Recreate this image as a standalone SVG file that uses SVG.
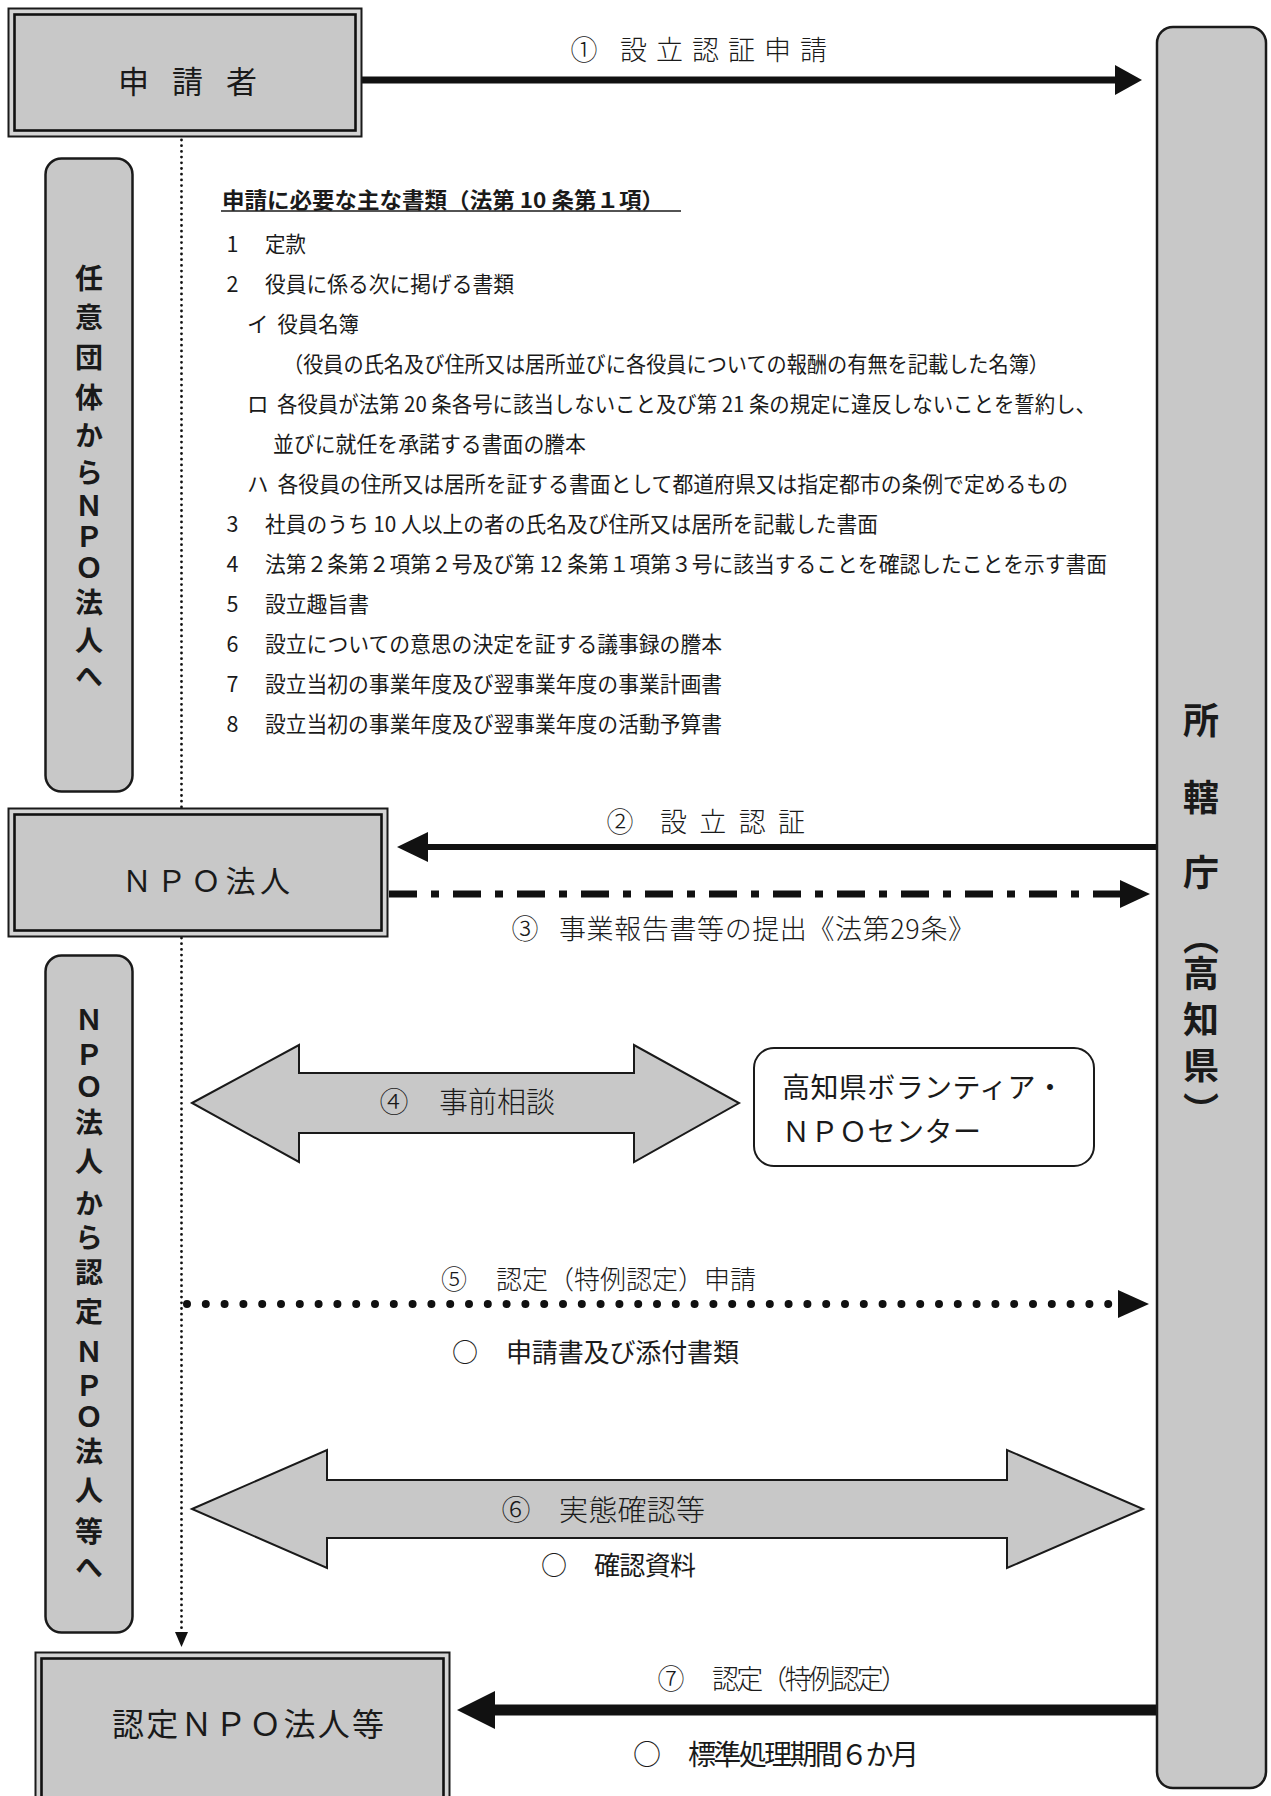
<svg xmlns="http://www.w3.org/2000/svg" width="1271" height="1796" viewBox="0 0 1271 1796">
<style>
text{font-family:"Noto Sans CJK JP","Noto Sans CJK SC",sans-serif;fill:#1a1a1a;dominant-baseline:central}
.lbl{font-weight:300;font-size:27px}
.doc{font-size:21.5px}
.vb{font-weight:700;font-size:28px;text-anchor:middle;writing-mode:vertical-rl}
.vs{font-weight:700;font-size:36px;text-anchor:middle;writing-mode:vertical-rl}
.mid{text-anchor:middle}
.box{font-weight:400}
.gray{fill:#c8c8c8;stroke:#1a1a1a}
.outer{fill:#d4d4d4;stroke:#1a1a1a;stroke-width:2}
.inner{fill:#c8c8c8;stroke:#111;stroke-width:2.6}
.head{fill:#111;stroke:none}
</style>
<rect width="1271" height="1796" fill="#fff"/>

<g id="connectors">
  <!-- dotted vertical flow -->
  <line x1="181.5" y1="140" x2="181.5" y2="1634" stroke="#111" stroke-width="2.8" stroke-linecap="round" stroke-dasharray="0 5.7"/>
  <polygon class="head" points="175,1632 188,1632 181.5,1647"/>
  <!-- 1 -->
  <line x1="362" y1="80" x2="1118" y2="80" stroke="#111" stroke-width="7"/>
  <polygon class="head" points="1115,65 1142,80 1115,95"/>
  <!-- 2 -->
  <line x1="1157" y1="847" x2="425" y2="847" stroke="#111" stroke-width="6"/>
  <polygon class="head" points="428,832 397,847 428,862"/>
  <!-- 3 -->
  <line x1="389" y1="894" x2="1120" y2="894" stroke="#111" stroke-width="7" stroke-dasharray="28 14 8 14"/>
  <polygon class="head" points="1120,880 1150,894 1120,908"/>
  <!-- 4 -->
  <polygon class="gray" stroke-width="2" points="192,1103 299,1045 299,1073 634,1073 634,1045 739,1103 634,1162 634,1133 299,1133 299,1162"/>
  <!-- 5 -->
  <line x1="187" y1="1304" x2="1112" y2="1304" stroke="#111" stroke-width="8" stroke-linecap="round" stroke-dasharray="0 18.8"/>
  <polygon class="head" points="1118,1290 1149,1304 1118,1318"/>
  <!-- 6 -->
  <polygon class="gray" stroke-width="2" points="192,1509 327,1450 327,1480 1007,1480 1007,1450 1143,1509 1007,1568 1007,1538 327,1538 327,1568"/>
  <!-- 7 -->
  <line x1="1157" y1="1710" x2="490" y2="1710" stroke="#111" stroke-width="11"/>
  <polygon class="head" points="495,1691 457,1710 495,1729"/>

  <g id="connector-labels">
    <text class="lbl mid" x="584" y="48">①</text>
    <text class="lbl" x="620" y="48" textLength="207" lengthAdjust="spacing">設立認証申請</text>
    <text class="lbl mid" x="620" y="820">②</text>
    <text class="lbl" x="660" y="820" textLength="145" lengthAdjust="spacing">設立認証</text>
    <text class="lbl mid" x="525" y="927">③</text>
    <text class="lbl" x="559" y="927" textLength="416" lengthAdjust="spacing">事業報告書等の提出《法第29条》</text>
    <text class="lbl mid" x="394" y="1100" style="font-size:29px">④</text>
    <text class="lbl" x="439" y="1100" style="font-size:29px" textLength="116" lengthAdjust="spacing">事前相談</text>
    <text class="lbl mid" x="454" y="1277" style="font-size:26px">⑤</text>
    <text class="lbl" x="496" y="1277" style="font-size:26px" textLength="260" lengthAdjust="spacing">認定（特例認定）申請</text>
    <text class="mid" x="465" y="1350" style="font-size:26px">○</text>
    <text x="506" y="1350" style="font-size:26px" textLength="233" lengthAdjust="spacing">申請書及び添付書類</text>
    <text class="lbl mid" x="516" y="1508" style="font-size:29px">⑥</text>
    <text class="lbl" x="559" y="1508" style="font-size:29px" textLength="146" lengthAdjust="spacing">実態確認等</text>
    <text class="mid" x="554" y="1563" style="font-size:26px">○</text>
    <text x="594" y="1563" style="font-size:26px" textLength="102" lengthAdjust="spacing">確認資料</text>
    <text class="lbl mid" x="671" y="1677">⑦</text>
    <text class="lbl" x="712" y="1677" textLength="196" lengthAdjust="spacing">認定（特例認定）</text>
    <text class="mid" x="647" y="1753" style="font-size:28px">○</text>
    <text x="688" y="1753" style="font-size:28px" textLength="231" lengthAdjust="spacing">標準処理期間６か月</text>
  </g>
</g>

<g id="node-applicant">
  <rect class="outer" x="8.5" y="8.5" width="353" height="128"/>
  <rect class="inner" x="14.5" y="14.5" width="341" height="116"/>
  <text class="box" x="118" y="79" style="font-size:31px" textLength="139" lengthAdjust="spacing">申 請 者</text>
</g>

<g id="node-npo">
  <rect class="outer" x="8.5" y="808.5" width="379" height="128"/>
  <rect class="inner" x="14.5" y="814.5" width="367" height="116"/>
  <text class="box" x="122" y="879" style="font-size:30px" textLength="168" lengthAdjust="spacing">ＮＰＯ法人</text>
</g>

<g id="node-nintei">
  <rect class="outer" x="35.5" y="1652.5" width="414" height="150"/>
  <rect class="inner" x="41.5" y="1658.5" width="402" height="140"/>
  <text class="box" x="112" y="1722" style="font-size:32px" textLength="272" lengthAdjust="spacing">認定ＮＰＯ法人等</text>
</g>

<g id="node-shokancho">
  <rect class="gray" stroke-width="2.5" x="1157" y="27" width="109" height="1761" rx="16"/>
  <text class="vs" x="1201" y="720 797 872 937 973 1019 1065 1110">所轄庁（高知県）</text>
</g>

<g id="node-center">
  <rect x="754" y="1048" width="340" height="118" rx="20" fill="#fff" stroke="#1a1a1a" stroke-width="2"/>
  <text x="782" y="1086" style="font-size:28px" textLength="282" lengthAdjust="spacing">高知県ボランティア・</text>
  <text x="782" y="1130" style="font-size:28px" textLength="199" lengthAdjust="spacing">ＮＰＯセンター</text>
</g>

<g id="node-stage1">
  <rect class="gray" stroke-width="2.5" x="45.5" y="158.5" width="87" height="633" rx="16"/>
  <text class="vb" x="89" y="278 317 357 397 435 472 506 537 568 602 640 676">任意団体からＮＰＯ法人へ</text>
</g>

<g id="node-stage2">
  <rect class="gray" stroke-width="2.5" x="45.5" y="955.5" width="87" height="677" rx="16"/>
  <text class="vb" x="89" y="1020 1055 1087 1122 1161 1203 1237 1272 1311 1352 1386 1417 1451 1490 1531 1567">ＮＰＯ法人から認定ＮＰＯ法人等へ</text>
</g>

<g id="doc-list">
  <text x="222" y="198" style="font-size:21.5px;font-weight:700" textLength="442" lengthAdjust="spacingAndGlyphs">申請に必要な主な書類（法第 10 条第１項）</text>
  <line x1="221" y1="211" x2="681" y2="211" stroke="#1a1a1a" stroke-width="1.6"/>
  <text class="doc" x="226.5" y="242">1</text>
  <text class="doc" x="265" y="242" textLength="41" lengthAdjust="spacingAndGlyphs">定款</text>
  <text class="doc" x="226.5" y="282">2</text>
  <text class="doc" x="265" y="282" textLength="249" lengthAdjust="spacingAndGlyphs">役員に係る次に掲げる書類</text>
  <text class="doc" x="247" y="322">イ</text>
  <text class="doc" x="277.5" y="322" textLength="81.5" lengthAdjust="spacingAndGlyphs">役員名簿</text>
  <text class="doc" x="283" y="362" textLength="766" lengthAdjust="spacingAndGlyphs">（役員の氏名及び住所又は居所並びに各役員についての報酬の有無を記載した名簿）</text>
  <text class="doc" x="247" y="402">ロ</text>
  <text class="doc" x="277" y="402" textLength="819" lengthAdjust="spacingAndGlyphs">各役員が法第 20 条各号に該当しないこと及び第 21 条の規定に違反しないことを誓約し、</text>
  <text class="doc" x="273" y="442" textLength="313" lengthAdjust="spacingAndGlyphs">並びに就任を承諾する書面の謄本</text>
  <text class="doc" x="247" y="482">ハ</text>
  <text class="doc" x="277.5" y="482" textLength="790.5" lengthAdjust="spacingAndGlyphs">各役員の住所又は居所を証する書面として都道府県又は指定都市の条例で定めるもの</text>
  <text class="doc" x="226.5" y="522">3</text>
  <text class="doc" x="265" y="522" textLength="613" lengthAdjust="spacingAndGlyphs">社員のうち 10 人以上の者の氏名及び住所又は居所を記載した書面</text>
  <text class="doc" x="226.5" y="562">4</text>
  <text class="doc" x="265" y="562" textLength="842" lengthAdjust="spacingAndGlyphs">法第２条第２項第２号及び第 12 条第１項第３号に該当することを確認したことを示す書面</text>
  <text class="doc" x="226.5" y="602">5</text>
  <text class="doc" x="265" y="602" textLength="104" lengthAdjust="spacingAndGlyphs">設立趣旨書</text>
  <text class="doc" x="226.5" y="642">6</text>
  <text class="doc" x="265" y="642" textLength="457" lengthAdjust="spacingAndGlyphs">設立についての意思の決定を証する議事録の謄本</text>
  <text class="doc" x="226.5" y="682">7</text>
  <text class="doc" x="265" y="682" textLength="457" lengthAdjust="spacingAndGlyphs">設立当初の事業年度及び翌事業年度の事業計画書</text>
  <text class="doc" x="226.5" y="722">8</text>
  <text class="doc" x="265" y="722" textLength="457" lengthAdjust="spacingAndGlyphs">設立当初の事業年度及び翌事業年度の活動予算書</text>
</g>
</svg>
